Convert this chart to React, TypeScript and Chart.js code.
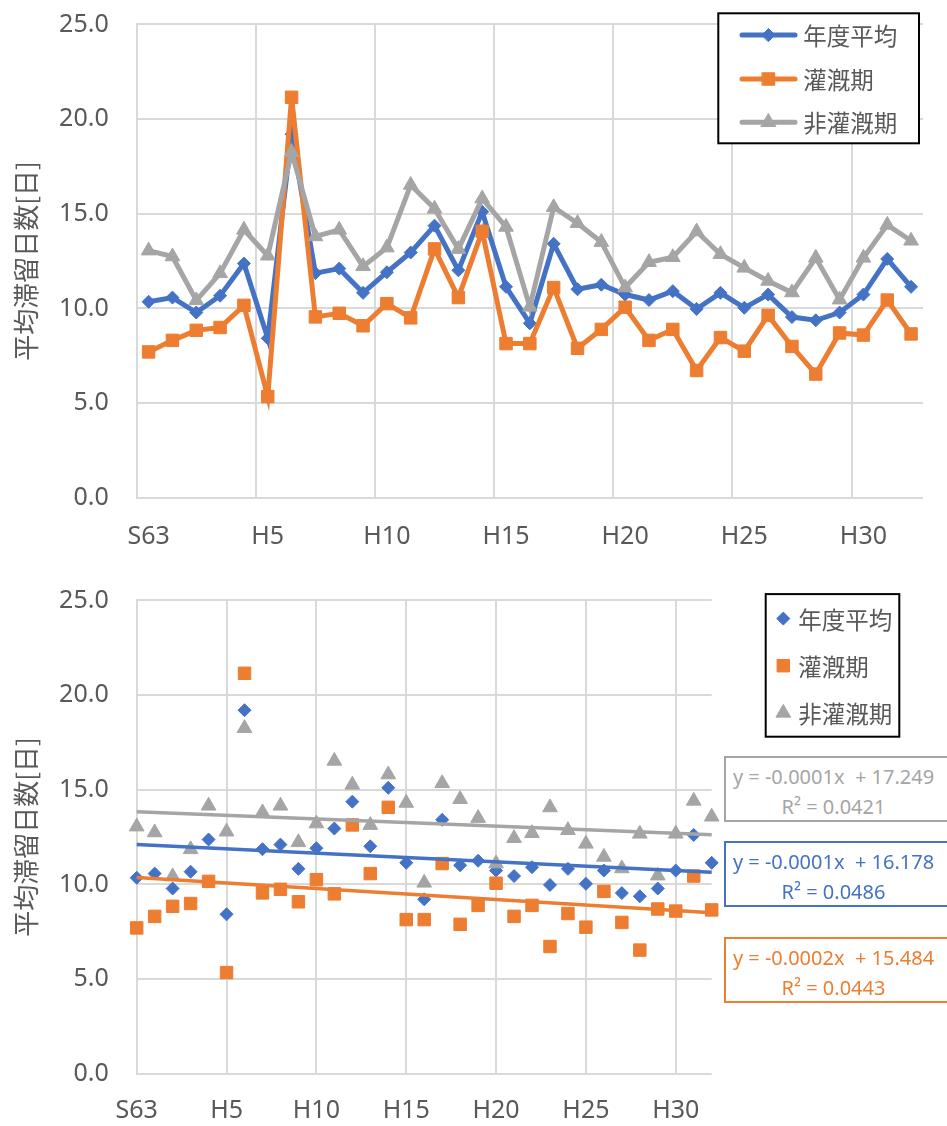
import React, { useEffect, useRef } from 'react';
import { Chart, registerables } from 'chart.js';
import { drawPoint } from 'chart.js/helpers';

Chart.register(...registerables);

// ---------- data ----------
const categories = [
  'S63', 'H1', 'H2', 'H3', 'H4', 'H5', 'H6', 'H7', 'H8', 'H9', 'H10',
  'H11', 'H12', 'H13', 'H14', 'H15', 'H16', 'H17', 'H18', 'H19', 'H20',
  'H21', 'H22', 'H23', 'H24', 'H25', 'H26', 'H27', 'H28', 'H29', 'H30',
  'H31', 'H32',
];
const seriesNames = ['年度平均', '灌漑期', '非灌漑期'];
const nendoHeikin = [
  10.35, 10.57, 9.78, 10.67, 12.37, 8.42, 19.2, 11.86, 12.1, 10.82, 11.91,
  12.95, 14.37, 12.01, 15.1, 11.14, 9.21, 13.41, 11.01, 11.25, 10.73,
  10.44, 10.91, 9.97, 10.82, 10.03, 10.73, 9.54, 9.37, 9.78, 10.73,
  12.61, 11.14,
];
const kangaiki = [
  7.7, 8.31, 8.84, 8.99, 10.16, 5.34, 21.15, 9.55, 9.74, 9.08, 10.25,
  9.5, 13.14, 10.57, 14.07, 8.14, 8.14, 11.1, 7.89, 8.89, 10.06,
  8.31, 8.89, 6.72, 8.46, 7.74, 9.63, 7.99, 6.53, 8.7, 8.59,
  10.44, 8.65,
];
const hiKangaiki = [
  13.05, 12.74, 10.42, 11.85, 14.15, 12.78, 18.25, 13.8, 14.15, 12.22, 13.21,
  16.52, 15.26, 13.13, 15.8, 14.3, 10.08, 15.34, 14.5, 13.5, 11.1,
  12.44, 12.7, 14.06, 12.86, 12.14, 11.45, 10.84, 12.67, 10.46, 12.67,
  14.41, 13.57,
];
const yTickValues = [0, 5, 10, 15, 20, 25];
const xLabelIndices = [0, 5, 10, 15, 20, 25, 30];
const yAxisTitle = '平均滞留日数[日]';
const trendLabelGray = ['y = -0.0001x  + 17.249', 'R² = 0.0421'];
const trendLabelBlue = ['y = -0.0001x  + 16.178', 'R² = 0.0486'];
const trendLabelOrange = ['y = -0.0002x  + 15.484', 'R² = 0.0443'];

// ---------- styles ----------
const BLUE = '#4472C4';
const ORANGE = '#ED7D31';
const GRAY = '#A5A5A5';
const GRID = '#D9D9D9';
const TEXT = '#595959';
const LATIN = '"Noto Sans", "Noto Sans CJK JP", sans-serif';
const CJK = '"Noto Sans CJK JP", "Noto Sans", sans-serif';

const W = 947;
const H1 = 565;
const H2 = 550;
const PLOT_TOP = 24.4;
const PLOT_BOTTOM = 497.7;
const PLOT_LEFT = 136.7;

const markers = [
  { pointStyle: 'rectRot', radius: 6.5 },
  { pointStyle: 'rect', radius: 8.8 },
  { pointStyle: 'triangle', radius: 8.5 },
];
const colors = [BLUE, ORANGE, GRAY];

function linFit(ys: number[]) {
  const n = ys.length;
  let sx = 0, sy = 0, sxx = 0, sxy = 0;
  ys.forEach((y, i) => { sx += i; sy += y; sxx += i * i; sxy += i * y; });
  const m = (n * sxy - sx * sy) / (n * sxx - sx * sx);
  const b = (sy - m * sx) / n;
  return [{ x: 0, y: b }, { x: n - 1, y: b + m * (n - 1) }];
}

type LegendCfg = {
  id: string;
  box: [number, number, number, number];
  rows: number[];
  line: [number, number] | null;
  markerX: number;
  textX: number;
  fontSize: number;
};

function makeLegend(cfg: LegendCfg) {
  return {
    id: cfg.id,
    afterDraw(chart: any) {
      const ctx = chart.ctx as CanvasRenderingContext2D;
      const [x, y, w, h] = cfg.box;
      ctx.save();
      ctx.fillStyle = '#ffffff';
      ctx.fillRect(x, y, w, h);
      ctx.lineWidth = 2;
      ctx.strokeStyle = '#000000';
      ctx.strokeRect(x, y, w, h);
      seriesNames.forEach((name, i) => {
        const cy = cfg.rows[i];
        const col = colors[i];
        if (cfg.line) {
          ctx.beginPath();
          ctx.lineCap = 'round';
          ctx.lineWidth = 5;
          ctx.strokeStyle = col;
          ctx.moveTo(cfg.line[0], cy);
          ctx.lineTo(cfg.line[1], cy);
          ctx.stroke();
        }
        ctx.fillStyle = col;
        ctx.strokeStyle = col;
        ctx.lineWidth = 1;
        drawPoint(ctx, {
          pointStyle: markers[i].pointStyle as any,
          radius: markers[i].radius,
          rotation: 0,
          borderWidth: 1,
        } as any, cfg.markerX, cy);
        ctx.fillStyle = TEXT;
        ctx.font = `${cfg.fontSize}px ${CJK}`;
        ctx.textBaseline = 'middle';
        ctx.textAlign = 'left';
        ctx.fillText(name, cfg.textX, cy + 1);
      });
      ctx.restore();
    },
  };
}

const tickFont = { size: 25, family: LATIN };

function zeroPad(s: any) {
  s.paddingTop = 0;
  s.paddingBottom = 0;
  s.paddingLeft = 0;
  s.paddingRight = 0;
}

function yAxis() {
  return {
    min: 0,
    max: 25,
    afterBuildTicks: (axis: any) => { axis.ticks = yTickValues.map((v) => ({ value: v })); },
    ticks: {
      padding: 28,
      color: TEXT,
      font: tickFont,
      callback: (v: any) => Number(v).toFixed(1),
    },
    grid: { color: GRID, lineWidth: 2, drawTicks: false },
    border: { display: true, color: GRID, width: 2 },
    title: {
      display: true,
      text: yAxisTitle,
      color: TEXT,
      font: { size: 26, family: CJK },
      padding: { top: 11, bottom: 0 },
    },
    afterFit: (s: any) => { s.width = PLOT_LEFT; zeroPad(s); },
  };
}

function TopChart() {
  const ref = useRef<HTMLCanvasElement>(null);
  useEffect(() => {
    if (!ref.current) return;
    const series = [nendoHeikin, kangaiki, hiKangaiki];
    const chart = new Chart(ref.current, {
      type: 'line',
      data: {
        labels: categories,
        datasets: series.map((d, i) => ({
          label: seriesNames[i],
          data: d,
          borderColor: colors[i],
          backgroundColor: colors[i],
          borderWidth: 5,
          tension: 0,
          pointStyle: markers[i].pointStyle as any,
          pointRadius: markers[i].radius,
          pointBorderWidth: 1,
          pointBorderColor: colors[i],
          pointBackgroundColor: colors[i],
          order: 2 - i,
          clip: false as any,
        })),
      },
      options: {
        animation: false,
        responsive: false,
        maintainAspectRatio: false,
        devicePixelRatio: 1,
        events: [],
        layout: { padding: { top: PLOT_TOP, right: W - 923, bottom: 0, left: 0 } },
        plugins: { legend: { display: false }, tooltip: { enabled: false } },
        scales: {
          x: {
            type: 'category',
            offset: true,
            grid: {
              offset: true,
              drawTicks: false,
              lineWidth: 2,
              color: (c: any) =>
                typeof c.index === 'number' && xLabelIndices.includes(c.index) ? GRID : 'rgba(0,0,0,0)',
            },
            border: { display: false },
            ticks: {
              autoSkip: false,
              maxRotation: 0,
              minRotation: 0,
              padding: 24,
              color: TEXT,
              font: tickFont,
              callback: (_v: any, i: number) => (xLabelIndices.includes(i) ? categories[i] : ''),
            },
            afterFit: (s: any) => { s.height = H1 - PLOT_BOTTOM; zeroPad(s); },
          },
          y: yAxis() as any,
        },
      },
      plugins: [
        makeLegend({
          id: 'topLegend',
          box: [718.3, 13.3, 200.7, 130],
          rows: [35, 79, 122.3],
          line: [742, 795],
          markerX: 768.5,
          textX: 803.3,
          fontSize: 23.5,
        }),
      ],
    } as any);
    return () => chart.destroy();
  }, []);
  return (
    <canvas
      ref={ref}
      width={W}
      height={H1}
      style={{ position: 'absolute', left: 0, top: 0, width: W, height: H1, display: 'block' }}
    />
  );
}

function BottomChart() {
  const ref = useRef<HTMLCanvasElement>(null);
  useEffect(() => {
    if (!ref.current) return;
    const series = [nendoHeikin, kangaiki, hiKangaiki];
    const scatterSets = series.map((d, i) => ({
      label: seriesNames[i],
      data: d.map((v, k) => ({ x: k, y: v })),
      borderColor: colors[i],
      backgroundColor: colors[i],
      showLine: false,
      pointStyle: markers[i].pointStyle as any,
      pointRadius: markers[i].radius,
      pointBorderWidth: 1,
      order: 3 - i,
      clip: false as any,
    }));
    const trendSets = series.map((d, i) => ({
      label: seriesNames[i] + ' trend',
      data: linFit(d),
      borderColor: colors[i],
      backgroundColor: colors[i],
      showLine: true,
      borderWidth: 3.5,
      pointRadius: 0,
      order: 0,
      clip: false as any,
    }));
    const chart = new Chart(ref.current, {
      type: 'scatter',
      data: { datasets: [...scatterSets, ...trendSets] },
      options: {
        animation: false,
        responsive: false,
        maintainAspectRatio: false,
        devicePixelRatio: 1,
        events: [],
        layout: { padding: { top: PLOT_TOP, right: W - 711.7, bottom: 0, left: 0 } },
        plugins: { legend: { display: false }, tooltip: { enabled: false } },
        scales: {
          x: {
            type: 'linear',
            min: 0,
            max: categories.length - 1,
            afterBuildTicks: (axis: any) => { axis.ticks = xLabelIndices.map((v) => ({ value: v })); },
            grid: { color: GRID, lineWidth: 2, drawTicks: false },
            border: { display: false },
            ticks: {
              maxRotation: 0,
              minRotation: 0,
              padding: 22,
              color: TEXT,
              font: tickFont,
              callback: (v: any) => categories[Number(v)],
            },
            afterFit: (s: any) => { s.height = H2 - PLOT_BOTTOM; zeroPad(s); },
          },
          y: yAxis() as any,
        },
      },
      plugins: [
        makeLegend({
          id: 'bottomLegend',
          box: [765.7, 18.1, 133.6, 142.6],
          rows: [42.6, 89.7, 136.9],
          line: null,
          markerX: 783.3,
          textX: 798.3,
          fontSize: 23.5,
        }),
      ],
    } as any);
    return () => chart.destroy();
  }, []);
  return (
    <canvas
      ref={ref}
      width={W}
      height={H2}
      style={{ position: 'absolute', left: 0, top: 576, width: W, height: H2, display: 'block' }}
    />
  );
}

function TrendBox({ top, color, lines }: { top: number; color: string; lines: string[] }) {
  return (
    <div
      style={{
        position: 'absolute',
        left: 724,
        top,
        width: 240,
        height: 66,
        boxSizing: 'border-box',
        border: `2px solid ${color}`,
        background: '#fff',
      }}
    >
      {lines.map((t, i) => (
        <div
          key={i}
          style={{
            position: 'absolute',
            left: 0,
            width: 215,
            top: i === 0 ? 6 : 36,
            lineHeight: '26px',
            textAlign: 'center',
            whiteSpace: 'pre',
            color,
            fontFamily: LATIN,
            fontSize: 20,
          }}
        >
          {t}
        </div>
      ))}
    </div>
  );
}

export default function App() {
  return (
    <div
      style={{
        position: 'absolute',
        left: 0,
        top: 0,
        width: W,
        height: 1126,
        overflow: 'hidden',
        background: '#ffffff',
      }}
    >
      <TopChart />
      <BottomChart />
      <TrendBox top={756} color={GRAY} lines={trendLabelGray} />
      <TrendBox top={841} color={BLUE} lines={trendLabelBlue} />
      <TrendBox top={937} color={ORANGE} lines={trendLabelOrange} />
    </div>
  );
}
